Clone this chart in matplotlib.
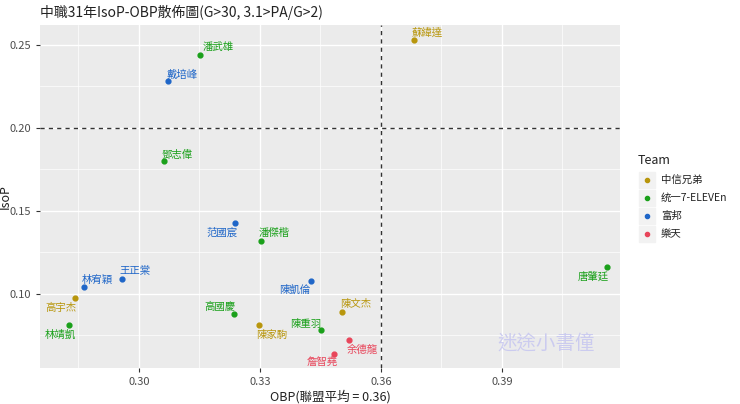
import matplotlib
matplotlib.use("Agg")
import matplotlib.pyplot as plt

plt.rcParams['font.family'] = ['Noto Sans CJK TC', 'DejaVu Sans']

names = ['蘇緯達','潘武雄','戴培峰','鄧志偉','范國宸','潘傑楷','王正棠','林宥穎','陳凱倫',
         '高宇杰','高國慶','陳文杰','林靖凱','陳家駒','陳重羽','余德龍','詹智堯','唐肇廷']
obp = [0.3682,0.3151,0.3072,0.3062,0.3238,0.3303,0.2958,0.2864,0.3427,
       0.2841,0.3236,0.3504,0.2827,0.3298,0.3452,0.3521,0.3484,0.4161]
isop = [0.253,0.244,0.228,0.180,0.143,0.132,0.109,0.104,0.108,
        0.0975,0.088,0.089,0.081,0.081,0.078,0.072,0.064,0.116]
teams = ['中信兄弟','統一7-ELEVEn','富邦','統一7-ELEVEn','富邦','統一7-ELEVEn','富邦','富邦','富邦',
         '中信兄弟','統一7-ELEVEn','中信兄弟','統一7-ELEVEn','中信兄弟','統一7-ELEVEn','樂天','樂天','統一7-ELEVEn']
team_order = ['中信兄弟','統一7-ELEVEn','富邦','樂天']
legend_labels = ['中信兄弟','统一7-ELEVEn','富邦','樂天']
colors = {'中信兄弟':'#B8960C','統一7-ELEVEn':'#1AA01A','富邦':'#1F66C8','樂天':'#E8455A'}
offsets = [(13,7),(18,8),(14,7),(13,6),(-13,-10),(13,8),(13,8),(13,7),(-16,-9),
           (-14,-10),(-14,7),(14,8),(-9,-9),(13,-9),(-15,7),(13,-9),(-12,-8),(-14,-9)]
avg_obp = 0.36
ref_isop = 0.20

fig = plt.figure(figsize=(7.4,4.04), dpi=100)
ax = fig.add_axes([40/740, 36/404, 580/740, 343/404])
ax.set_facecolor('#EBEBEB')
for s in ax.spines.values():
    s.set_visible(False)
ax.set_xlim(0.2755, 0.4193)
ax.set_ylim(0.0554, 0.262)
ax.set_xticks([0.30,0.33,0.36,0.39])
ax.set_xticks([0.285,0.315,0.345,0.375,0.405], minor=True)
ax.set_yticks([0.10,0.15,0.20,0.25])
ax.set_yticks([0.075,0.125,0.175,0.225], minor=True)
ax.set_xticklabels(['0.30','0.33','0.36','0.39'])
ax.set_yticklabels(['0.10','0.15','0.20','0.25'])
ax.grid(which='major', color='white', lw=1.0)
ax.grid(which='minor', color='white', lw=0.5)
ax.set_axisbelow(True)
ax.tick_params(which='major', colors='#333333', labelcolor='#4D4D4D', labelsize=8, length=3)
ax.tick_params(which='minor', length=0)

ax.axvline(avg_obp, color='#333333', ls=(0,(3,3)), lw=1)
ax.axhline(ref_isop, color='#333333', ls=(0,(3,3)), lw=1)

for t in team_order:
    xs = [x for x,tt in zip(obp,teams) if tt==t]
    ys = [y for y,tt in zip(isop,teams) if tt==t]
    ax.scatter(xs, ys, s=12, color=colors[t], zorder=3)
for n,x,y,t,o in zip(names,obp,isop,teams,offsets):
    ax.annotate(n,(x,y),xytext=o,textcoords='offset pixels',ha='center',va='center',
                fontsize=7.5,color=colors[t])

ax.set_xlabel('OBP(聯盟平均 = 0.36)', fontsize=9, color='#222222', labelpad=2)
ax.set_ylabel('IsoP', fontsize=9, color='#222222')
ax.yaxis.set_label_coords(-0.048, 0.5)
fig.text(40/740, 1-12/404, '中職31年IsoP-OBP散佈圖(G>30, 3.1>PA/G>2)', fontsize=10,
         color='#222222', va='center', ha='left')
ax.text(0.401, 0.070, '迷途小書僮', fontsize=14, color='#C8C8F0', ha='center', va='center', alpha=0.9)

fig.text(638/740, 1-160/404, 'Team', fontsize=9, color='#222222', va='center')
for i,(t,l) in enumerate(zip(team_order,legend_labels)):
    yy = 1-(180+18*i)/404
    fig.patches.append(plt.Rectangle((639/740, yy-8/404), 16/740, 16/404, transform=fig.transFigure,
                                     color='#F2F2F2', zorder=1))
    fig.add_artist(plt.Line2D([647/740],[yy], marker='o', ms=3, color=colors[t], ls='', transform=fig.transFigure))
    fig.text(661/740, yy, l, fontsize=7.5, color='#222222', va='center')

fig.savefig('out.png', dpi=100)
